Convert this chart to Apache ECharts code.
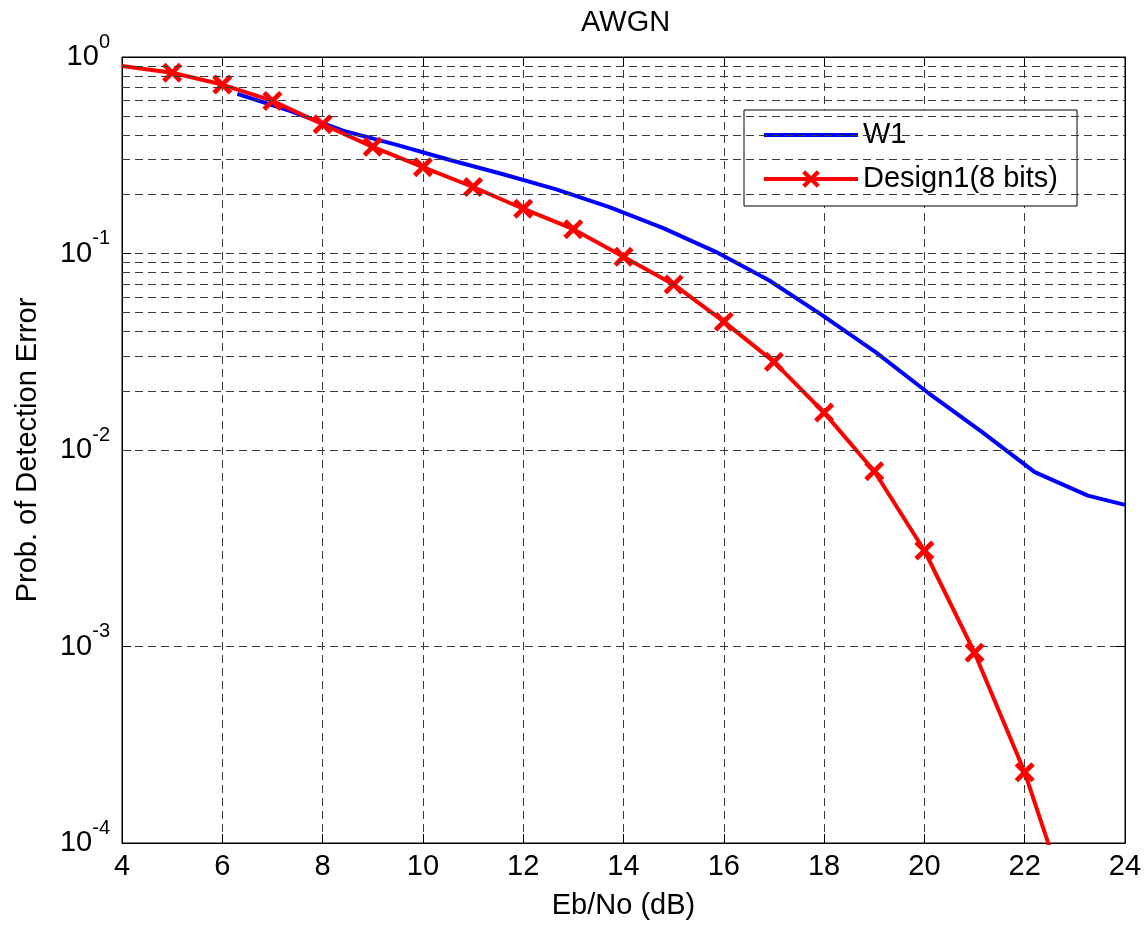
<!DOCTYPE html>
<html>
<head>
<meta charset="utf-8">
<script src="https://cdn.jsdelivr.net/npm/echarts@6/dist/echarts.min.js"></script>
<style>html,body{margin:0;padding:0;background:#fff}#c{width:1145px;height:925px}</style>
</head>
<body>
<div id="c"></div>
<script>
// ---- data ----
const titleText = 'AWGN';
const xName = 'Eb/No (dB)';
const yName = 'Prob. of Detection Error';
const seriesNames = ['W1', 'Design1(8 bits)'];

const w1X = [6.30, 7.36, 8.42, 9.48, 10.54, 11.60, 12.66, 13.72, 14.78, 15.84, 16.90, 17.96, 19.02, 20.08, 21.14, 22.20, 23.26, 24.0];
const w1Y = [0.649, 0.530, 0.421, 0.357, 0.299, 0.253, 0.212, 0.172, 0.135, 0.102, 0.0731, 0.0486, 0.0316, 0.0195, 0.0124, 0.00771, 0.00586, 0.00526];

const d1X = [4, 5, 6, 7, 8, 9, 10, 11, 12, 13, 14, 15, 16, 17, 18, 19, 20, 21, 22, 23];
const d1Y = [0.90, 0.832, 0.724, 0.598, 0.455, 0.349, 0.275, 0.218, 0.169, 0.133, 0.0962, 0.0696, 0.045, 0.0281, 0.0155, 0.0078, 0.00308, 0.00093, 0.000229, 0.000039];

const xTicks = [4, 6, 8, 10, 12, 14, 16, 18, 20, 22, 24];
const yDecades = [-4, -3, -2, -1, 0];
const minorMultipliers = [2, 3, 4, 5, 6, 7, 8, 9];

// ---- build ----
const minorGrid = [];
yDecades.slice(0, -1).forEach(function (e) {
  minorMultipliers.forEach(function (m) { minorGrid.push({ yAxis: m * Math.pow(10, e) }); });
});

const w1Data = w1X.map(function (x, i) { return [x, w1Y[i]]; });
const d1Data = d1X.map(function (x, i) {
  return i === 0 ? { value: [x, d1Y[i]], symbol: 'none' } : [x, d1Y[i]];
});

const crossPath = 'path://M0,17L17,0L50,33L83,0L100,17L67,50L100,83L83,100L50,67L17,100L0,83L33,50Z';
const FONT = 'Liberation Sans, Arial, Helvetica, sans-serif';
const dash = [8, 5];
const gridColor = '#3a3a3a';

const chart = echarts.init(document.getElementById('c'), null, { renderer: 'canvas' });
chart.setOption({
  animation: false,
  backgroundColor: '#fff',
  title: {
    text: titleText, left: 576, top: 3,
    textStyle: { fontFamily: FONT, fontSize: 29, fontWeight: 'normal', color: '#000' }
  },
  legend: {
    orient: 'vertical',
    left: 744, top: 110,
    padding: [10, 19, 12, 18],
    itemGap: 14,
    itemWidth: 94, itemHeight: 22,
    backgroundColor: '#fff',
    borderColor: '#000', borderWidth: 1,
    lineStyle: { width: 4 },
    textStyle: { fontFamily: FONT, fontSize: 29, color: '#000', lineHeight: 30 },
    data: [{ name: seriesNames[0], itemStyle: { opacity: 0 } }, { name: seriesNames[1] }]
  },
  grid: { left: 122, top: 57, right: 20, bottom: 80, show: true, borderColor: '#000', borderWidth: 1, backgroundColor: 'transparent' },
  xAxis: [{
    type: 'value', min: 4, max: 24, interval: 2,
    name: xName, nameLocation: 'middle', nameGap: 48,
    nameTextStyle: { fontFamily: FONT, fontSize: 29, color: '#000' },
    axisLine: { lineStyle: { color: '#000', width: 1 } },
    axisTick: { inside: true, length: 9, lineStyle: { color: '#000' } },
    axisLabel: { fontFamily: FONT, fontSize: 29, color: '#000', margin: 9,
      customValues: xTicks },
    splitLine: { show: true, lineStyle: { color: gridColor, type: dash, width: 1 } }
  }, {
    type: 'value', min: 4, max: 24, interval: 2, position: 'top',
    axisLine: { show: true, lineStyle: { color: '#000' } },
    axisTick: { inside: true, length: 9, lineStyle: { color: '#000' } },
    axisLabel: { show: false }, splitLine: { show: false }
  }],
  yAxis: [{
    type: 'log', logBase: 10, min: 0.0001, max: 1, interval: 1,
    name: yName, nameLocation: 'middle', nameGap: 80,
    nameTextStyle: { fontFamily: FONT, fontSize: 29, color: '#000' },
    axisLine: { lineStyle: { color: '#000', width: 1 } },
    axisTick: { inside: true, length: 9, lineStyle: { color: '#000' } },
    axisLabel: {
      margin: 12,
      formatter: function (v) {
        const e = Math.round(Math.log10(v));
        return '{b|10}{s|' + e + '}';
      },
      rich: {
        b: { fontFamily: FONT, fontSize: 29, color: '#000', verticalAlign: 'middle' },
        s: { fontFamily: FONT, fontSize: 20, color: '#000', verticalAlign: 'middle', padding: [0, 0, 30, 0] }
      }
    },
    splitLine: { show: true, lineStyle: { color: gridColor, type: dash, width: 1 } }
  }, {
    type: 'log', logBase: 10, min: 0.0001, max: 1, interval: 1, position: 'right',
    axisLine: { show: true, lineStyle: { color: '#000' } },
    axisTick: { inside: true, length: 9, lineStyle: { color: '#000' } },
    axisLabel: { show: false }, splitLine: { show: false }
  }],
  series: [{
    type: 'line', name: '_grid', data: [], z: 1, silent: true,
    markLine: {
      silent: true, symbol: ['none', 'none'], label: { show: false },
      lineStyle: { color: gridColor, type: dash, width: 1 },
      data: minorGrid
    }
  }, {
    type: 'line', name: seriesNames[0], data: w1Data, z: 3,
    symbol: 'none', smooth: false,
    lineStyle: { color: '#0000ff', width: 4 },
    itemStyle: { color: '#0000ff' }
  }, {
    type: 'line', name: seriesNames[1], data: d1Data, z: 4,
    symbol: crossPath, symbolSize: 20, clip: true,
    lineStyle: { color: '#ff0000', width: 4 },
    itemStyle: { color: '#ff0000' }
  }]
});
</script>
</body>
</html>
